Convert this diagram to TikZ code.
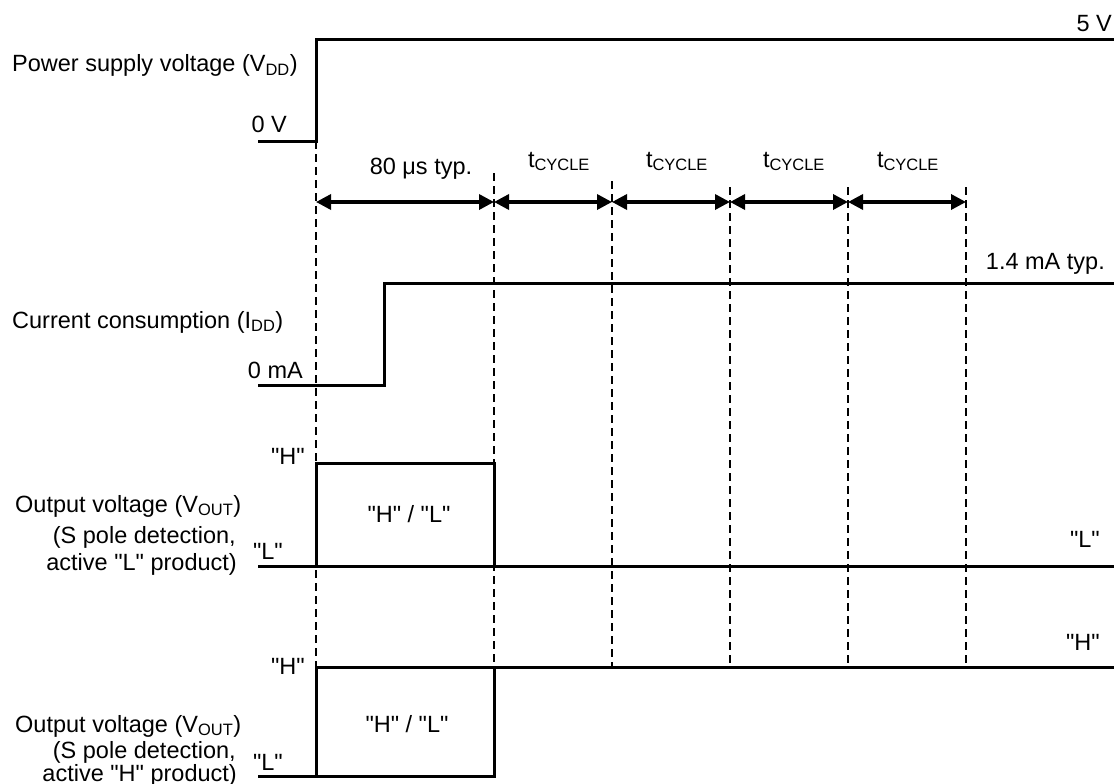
\documentclass[tikz,border=0pt]{standalone}
\usepackage{fontspec}
\setmainfont{Liberation Sans}
\usetikzlibrary{arrows.meta}
\newcommand{\mysub}[1]{\textsubscript{#1}}
\newcommand{\qt}[1]{\textquotedbl#1\textquotedbl}
\begin{document}
\begin{tikzpicture}[x=1pt,y=-1pt,
  wave/.style={line width=3pt},
  guide/.style={line width=2.8pt, dash pattern=on 8pt off 5pt},
  dimline/.style={line width=3.4pt,{Triangle[length=15pt,width=15pt]}-{Triangle[length=15pt,width=15pt]}},
  lbl/.style={inner sep=0pt, font=\fontsize{23.5}{28}\selectfont}]
\useasboundingbox (0,0) rectangle (1114,784);

% time positions
\coordinate (g0t) at (316,141);
\coordinate (g1t) at (494,173);
\coordinate (g2t) at (612,181);
\coordinate (g3t) at (730,187);
\coordinate (g4t) at (848,187);
\coordinate (g5t) at (966,187);
\coordinate (g0b) at (316,667);
\coordinate (g1b) at (494,667);
\coordinate (g2b) at (612,667);
\coordinate (g3b) at (730,667);
\coordinate (g4b) at (848,667);
\coordinate (g5b) at (966,667);

% guides
\foreach \i in {0,...,5} \draw[guide] (g\i t) -- (g\i b);

% dimension arrows
\coordinate (a0) at (316,202);
\coordinate (a1) at (494,202);
\coordinate (a2) at (612,202);
\coordinate (a3) at (730,202);
\coordinate (a4) at (848,202);
\coordinate (a5) at (966,202);
\draw[dimline] (a0) -- (a1);
\draw[dimline] (a1) -- (a2);
\draw[dimline] (a2) -- (a3);
\draw[dimline] (a3) -- (a4);
\draw[dimline] (a4) -- (a5);

% VDD
\coordinate (vdd0) at (258,141);
\coordinate (vdd1) at (316,141);
\coordinate (vdd2) at (316,40);
\coordinate (vdd3) at (1114,40);
\draw[wave] (vdd0) -- (vdd1) -- (vdd2) -- (vdd3);

% IDD
\coordinate (idd0) at (258,385);
\coordinate (idd1) at (384,385);
\coordinate (idd2) at (384,283);
\coordinate (idd3) at (1114,283);
\draw[wave] (idd0) -- (idd1) -- (idd2) -- (idd3);

% VOUT active L
\coordinate (la0) at (258,566);
\coordinate (la1) at (1114,566);
\coordinate (lb0) at (316,566);
\coordinate (lb1) at (316,463);
\coordinate (lb2) at (494,463);
\coordinate (lb3) at (494,566);
\draw[wave] (la0) -- (la1);
\draw[wave] (lb0) -- (lb1) -- (lb2) -- (lb3);

% VOUT active H
\coordinate (ha0) at (316,667);
\coordinate (ha1) at (1114,667);
\coordinate (hb0) at (258,776);
\coordinate (hb1) at (494,776);
\coordinate (hb2) at (494,667);
\coordinate (hb3) at (316,776);
\draw[wave] (ha0) -- (ha1);
\draw[wave] (hb0) -- (hb1) -- (hb2);
\draw[wave] (ha0) -- (hb3);

% labels
\node[lbl,anchor=base west] (vddlbl) at (12,72) {Power supply voltage (V\mysub{DD})};
\node[lbl,anchor=base east] (v0) at (287,132) {0 V};
\node[lbl,anchor=base east] (v5) at (1112,32) {5 V};

\node[lbl,anchor=base] (t80) at (421,174) {80 μs typ.};
\node[lbl,anchor=base] (tc1) at (559,167) {t\mysub{CYCLE}};
\node[lbl,anchor=base] (tc2) at (677,167) {t\mysub{CYCLE}};
\node[lbl,anchor=base] (tc3) at (794,167) {t\mysub{CYCLE}};
\node[lbl,anchor=base] (tc4) at (908,167) {t\mysub{CYCLE}};

\node[lbl,anchor=base west] (iddlbl) at (12,328) {Current consumption (I\mysub{DD})};
\node[lbl,anchor=base east] (i0) at (303,378) {0 mA};
\node[lbl,anchor=base east] (i14) at (1105,269) {1.4 mA typ.};

\node[lbl,anchor=base west] (out1) at (15,512) {Output voltage (V\mysub{OUT})};
\node[lbl,anchor=base east] (out1a) at (236,543) {(S pole detection,};
\node[lbl,anchor=base east] (out1b) at (237,570) {active \qt{L} product)};
\node[lbl,anchor=base east] (h1) at (305,464) {\qt{H}};
\node[lbl,anchor=base east] (l1) at (283,559) {\qt{L}};
\node[lbl,anchor=base] (hl1) at (409,522) {\qt{H} / \qt{L}};
\node[lbl,anchor=base east] (rl1) at (1100,547) {\qt{L}};

\node[lbl,anchor=base west] (out2) at (15,732) {Output voltage (V\mysub{OUT})};
\node[lbl,anchor=base east] (out2a) at (236,758) {(S pole detection,};
\node[lbl,anchor=base east] (out2b) at (237,781) {active \qt{H} product)};
\node[lbl,anchor=base east] (h2) at (305,674) {\qt{H}};
\node[lbl,anchor=base east] (l2) at (283,770) {\qt{L}};
\node[lbl,anchor=base] (hl2) at (407,732) {\qt{H} / \qt{L}};
\node[lbl,anchor=base east] (rh2) at (1100,650) {\qt{H}};
\end{tikzpicture}
\end{document}
